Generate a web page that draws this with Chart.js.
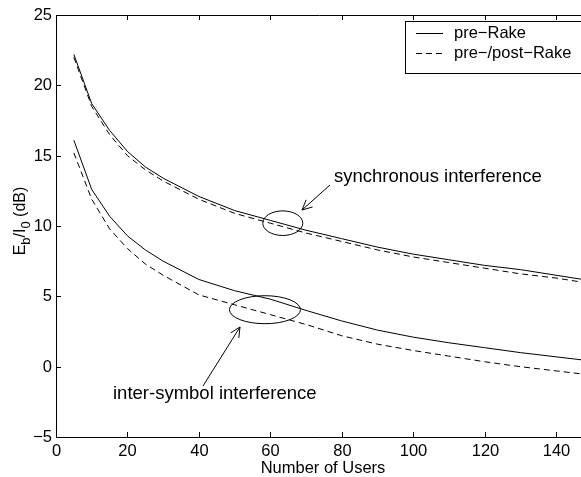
<!DOCTYPE html>
<html>
<head>
<meta charset="utf-8">
<script src="https://cdn.jsdelivr.net/npm/chart.js@4"></script>
<style>
  body { margin: 0; background: #fff; }
  #wrap { width: 581px; height: 477px; }
</style>
</head>
<body>
<div id="wrap"><canvas id="myChart" width="581" height="477"></canvas></div>
<script>
// values
const users = [5, 10, 15, 20, 25, 30, 40, 50, 60, 70, 80, 90, 100, 110, 120, 130, 140, 150];
const syncPre = [22.2, 18.7, 16.8, 15.3, 14.2, 13.4, 12.1, 11.1, 10.4, 9.7, 9.1, 8.5, 8.0, 7.6, 7.2, 6.9, 6.5, 6.1];
const syncPost = [22.0, 18.5, 16.5, 15.0, 14.0, 13.2, 11.9, 10.9, 10.2, 9.5, 8.9, 8.3, 7.8, 7.4, 7.0, 6.6, 6.3, 5.9];
const isiPre = [16.1, 12.6, 10.7, 9.3, 8.3, 7.5, 6.2, 5.4, 4.8, 4.0, 3.25, 2.6, 2.1, 1.7, 1.35, 1.0, 0.7, 0.4];
const isiPost = [15.2, 11.9, 9.8, 8.4, 7.3, 6.5, 5.1, 4.4, 3.7, 3.0, 2.2, 1.6, 1.15, 0.75, 0.35, 0.0, -0.3, -0.6];
const xTicks = [0, 20, 40, 60, 80, 100, 120, 140];
const yTicks = [-5, 0, 5, 10, 15, 20, 25];
const seriesNames = ['pre\u2212Rake', 'pre\u2212/post\u2212Rake'];

const FAM = '"Liberation Sans", Arial, sans-serif';
const FONT = '16.5px ' + FAM;
const BIG = '18.5px ' + FAM;

function pts(ys) {
  return users.map((u, i) => ({ x: u, y: ys[i] }));
}

function line(label, ys, dashed) {
  return {
    label: label,
    data: pts(ys),
    borderColor: '#000',
    borderWidth: 1,
    borderDash: dashed ? [6, 4] : [],
    pointRadius: 0,
    tension: 0,
    fill: false
  };
}

const frame = {
  id: 'frame',
  afterDraw(chart) {
    const c = chart.ctx;
    const a = chart.chartArea;
    const xs = chart.scales.x, ys = chart.scales.y;
    c.save();
    c.strokeStyle = '#000';
    c.fillStyle = '#000';
    c.lineWidth = 1;
    c.setLineDash([]);

    // axes box (right side is cut off in the reference)
    c.beginPath();
    c.moveTo(a.right + 1, a.top + 0.5);
    c.lineTo(a.left + 0.5, a.top + 0.5);
    c.lineTo(a.left + 0.5, a.bottom + 0.5);
    c.lineTo(a.right + 1, a.bottom + 0.5);
    c.stroke();

    c.font = FONT;
    // x ticks, pointing inward, top and bottom
    c.textAlign = 'center';
    c.textBaseline = 'middle';
    xTicks.forEach(v => {
      const px = Math.round(xs.getPixelForValue(v)) + 0.5;
      c.beginPath();
      c.moveTo(px, a.bottom); c.lineTo(px, a.bottom - 5);
      c.moveTo(px, a.top); c.lineTo(px, a.top + 5);
      c.stroke();
      c.fillText(String(v), px, a.bottom + 14);
    });
    // y ticks
    c.textAlign = 'right';
    yTicks.forEach(v => {
      const py = Math.round(ys.getPixelForValue(v)) + 0.5;
      c.beginPath();
      c.moveTo(a.left, py); c.lineTo(a.left + 5, py);
      c.stroke();
      c.fillText(String(v).replace('-', '\u2212'), a.left - 4, py);
    });

    // x title
    c.textAlign = 'center';
    c.fillText('Number of Users', 323, 468);

    // y title: E_b/I_0 (dB), rotated
    c.save();
    c.translate(21, 221);
    c.rotate(-Math.PI / 2);
    const main = '16px ' + FAM;
    const sub = '13px ' + FAM;
    const parts = [['E', main, 0], ['b', sub, 5], ['/I', main, 0], ['0', sub, 5], [' (dB)', main, 0]];
    let w = 0;
    parts.forEach(p => { c.font = p[1]; w += c.measureText(p[0]).width; });
    let x = -w / 2;
    c.textAlign = 'left';
    parts.forEach(p => {
      c.font = p[1];
      c.fillText(p[0], x, p[2]);
      x += c.measureText(p[0]).width;
    });
    c.restore();

    // annotations: ellipses, arrows and labels
    function ellipse(xv, yv, rx, ry) {
      c.beginPath();
      c.ellipse(xs.getPixelForValue(xv), ys.getPixelForValue(yv), rx, ry, 0, 0, Math.PI * 2);
      c.stroke();
    }
    function arrow(x1, y1, x2, y2) {
      c.beginPath();
      c.moveTo(x1, y1); c.lineTo(x2, y2);
      c.stroke();
      const ang = Math.atan2(y2 - y1, x2 - x1);
      const L = 11, s = 0.45;
      c.beginPath();
      c.moveTo(x2 - L * Math.cos(ang - s), y2 - L * Math.sin(ang - s));
      c.lineTo(x2, y2);
      c.lineTo(x2 - L * Math.cos(ang + s), y2 - L * Math.sin(ang + s));
      c.stroke();
    }
    ellipse(63.5, 10.2, 20, 12.3);
    ellipse(58.5, 4.05, 35.5, 14);
    arrow(330, 185, 302, 210);
    arrow(203, 386, 240, 327);
    c.font = BIG;
    c.textAlign = 'left';
    c.fillText('synchronous interference', 334, 177);
    c.fillText('inter-symbol interference', 113, 394);

    // legend box
    c.fillStyle = '#fff';
    c.fillRect(406, 21, 180, 52);
    c.fillStyle = '#000';
    c.strokeRect(405.5, 21.5, 190, 52);
    c.beginPath();
    c.moveTo(416, 33.5); c.lineTo(443, 33.5);
    c.stroke();
    c.setLineDash([6, 4]);
    c.beginPath();
    c.moveTo(416, 53.5); c.lineTo(443, 53.5);
    c.stroke();
    c.setLineDash([]);
    c.font = FONT;
    c.fillText(seriesNames[0], 454, 33);
    c.fillText(seriesNames[1], 454, 53);
    c.restore();
  }
};

const ctx = document.getElementById('myChart').getContext('2d');

const data = {
  datasets: [
    line('sync ' + seriesNames[0], syncPre, false),
    line('sync ' + seriesNames[1], syncPost, true),
    line('isi ' + seriesNames[0], isiPre, false),
    line('isi ' + seriesNames[1], isiPost, true)
  ]
};

const config = {
  type: 'line',
  data: data,
  options: {
    responsive: false,
    animation: false,
    layout: { padding: { left: 56, top: 15, right: 0, bottom: 40 } },
    scales: {
      x: { type: 'linear', min: 0, max: 147, display: false },
      y: { type: 'linear', min: -5, max: 25, display: false }
    },
    plugins: {
      legend: { display: false },
      tooltip: { enabled: false }
    }
  },
  plugins: [frame]
};

const myChart = new Chart(ctx, config);
</script>
</body>
</html>
